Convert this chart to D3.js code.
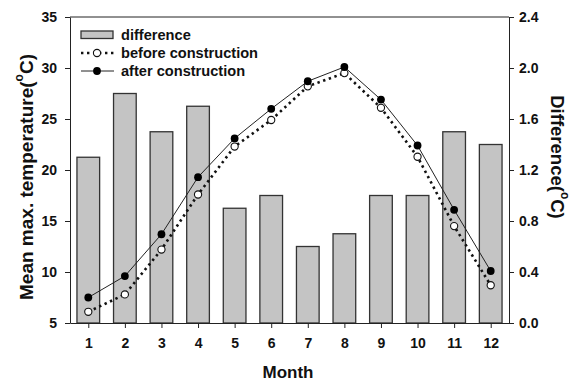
<!DOCTYPE html>
<html><head><meta charset="utf-8">
<script src="https://cdn.jsdelivr.net/npm/d3@7"></script>
<style>
body{margin:0;background:#fff;}
text{font-family:"Liberation Sans",Arial,sans-serif;font-weight:bold;fill:#111;}
</style></head>
<body><svg id="c" width="572" height="383"></svg>
<script>
const months = [1,2,3,4,5,6,7,8,9,10,11,12];
const difference = [1.3,1.8,1.5,1.7,0.9,1.0,0.6,0.7,1.0,1.0,1.5,1.4];
const before = [6.1,7.8,12.2,17.6,22.3,24.9,28.2,29.5,26.1,21.3,14.5,8.7];
const after = [7.5,9.6,13.7,19.3,23.1,26.0,28.7,30.1,26.9,22.4,16.1,10.1];
const leftTicks = [5,10,15,20,25,30,35];
const rightTicks = [0,0.4,0.8,1.2,1.6,2.0,2.4];

const svg = d3.select("#c");
const L=70,R=509,T=17,B=323;
const x = d3.scaleLinear().domain([0.5,12.5]).range([L,R]);
const yL = d3.scaleLinear().domain([5,35]).range([B,T]);
const yR = d3.scaleLinear().domain([0,2.4]).range([B,T]);

// bars
svg.append("g").selectAll("rect").data(months).join("rect")
  .attr("x",(m)=>x(m-0.31)).attr("width",x(0.62)-x(0))
  .attr("y",(m,i)=>yR(difference[i])).attr("height",(m,i)=>yR(0)-yR(difference[i]))
  .attr("fill","#c4c4c4").attr("stroke","#333").attr("stroke-width",1.3);

// frame top
svg.append("line").attr("x1",L).attr("x2",R).attr("y1",T).attr("y2",T).attr("stroke","#222").attr("stroke-width",1);

const fs = "14px";
const ax1 = svg.append("g").attr("transform",`translate(${L},0)`)
  .call(d3.axisLeft(yL).tickValues(leftTicks).tickSize(5).tickSizeOuter(0).tickPadding(8));
const ax2 = svg.append("g").attr("transform",`translate(${R},0)`)
  .call(d3.axisRight(yR).tickValues(rightTicks).tickSize(5).tickSizeOuter(0).tickPadding(5).tickFormat(d3.format(".1f")));
const ax3 = svg.append("g").attr("transform",`translate(0,${B})`)
  .call(d3.axisBottom(x).tickValues(months).tickSize(5).tickSizeOuter(0).tickPadding(10).tickFormat(d3.format("d")));
[ax1,ax2,ax3].forEach(a=>{
  a.selectAll("text").style("font-size",fs).style("font-family",'"Liberation Sans",Arial,sans-serif').style("font-weight","bold").attr("fill","#111");
  a.selectAll("line,path").attr("stroke","#222");
});

// lines
const lineB = d3.line().x((d,i)=>x(months[i])).y(d=>yL(d));
svg.append("path").datum(before).attr("d",lineB).attr("fill","none")
  .attr("stroke","#111").attr("stroke-width",2.6).attr("stroke-dasharray","2.4,3.6");
svg.append("path").datum(after).attr("d",lineB).attr("fill","none")
  .attr("stroke","#222").attr("stroke-width",1);
svg.append("g").selectAll("circle").data(before).join("circle")
  .attr("cx",(d,i)=>x(months[i])).attr("cy",d=>yL(d)).attr("r",3.6)
  .attr("fill","#fff").attr("stroke","#111").attr("stroke-width",1.1);
svg.append("g").selectAll("circle").data(after).join("circle")
  .attr("cx",(d,i)=>x(months[i])).attr("cy",d=>yL(d)).attr("r",3.9)
  .attr("fill","#000");

// legend
const lg = svg.append("g");
lg.append("rect").attr("x",81).attr("y",31).attr("width",32).attr("height",7.5)
  .attr("fill","#c4c4c4").attr("stroke","#333").attr("stroke-width",1.3);
lg.append("line").attr("x1",81).attr("x2",114).attr("y1",53).attr("y2",53)
  .attr("stroke","#111").attr("stroke-width",2.6).attr("stroke-dasharray","2.4,3.6");
lg.append("circle").attr("cx",97).attr("cy",53).attr("r",3.6).attr("fill","#fff").attr("stroke","#111").attr("stroke-width",1.1);
lg.append("line").attr("x1",81).attr("x2",114).attr("y1",71).attr("y2",71).attr("stroke","#222").attr("stroke-width",1);
lg.append("circle").attr("cx",97).attr("cy",71).attr("r",3.9).attr("fill","#000");
[["difference",35],["before construction",53],["after construction",71]].forEach(([t,y])=>{
  lg.append("text").attr("x",121).attr("y",y).attr("dominant-baseline","central").style("font-size","14.6px").text(t);
});

// titles
svg.append("text").attr("x",288).attr("y",372).attr("text-anchor","middle")
  .attr("dominant-baseline","central").style("font-size","17px").text("Month");
const lt = svg.append("text").attr("transform","translate(26,177) rotate(-90)")
  .attr("text-anchor","middle").attr("dominant-baseline","central").style("font-size","19px");
lt.append("tspan").text("Mean max. temperature(");
lt.append("tspan").attr("dy",-7).style("font-size","12px").text("o");
lt.append("tspan").attr("dy",7).text("C)");
const rt = svg.append("text").attr("transform","translate(558,157) rotate(90)")
  .attr("text-anchor","middle").attr("dominant-baseline","central").style("font-size","18.5px");
rt.append("tspan").text("Difference(");
rt.append("tspan").attr("dy",-7).style("font-size","12px").text("o");
rt.append("tspan").attr("dy",7).text("C)");
</script></body></html>
